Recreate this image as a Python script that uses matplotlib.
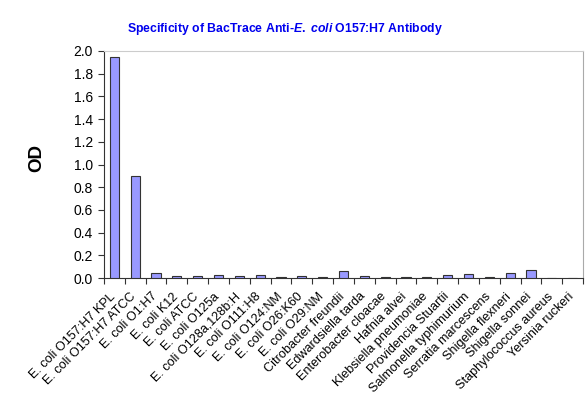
import matplotlib
matplotlib.use("Agg")
import matplotlib.pyplot as plt
import matplotlib.transforms as mtransforms
import numpy as np

plt.rcParams['font.family'] = ['Liberation Sans', 'DejaVu Sans']
plt.rcParams['mathtext.fontset'] = 'custom'
plt.rcParams['mathtext.it'] = 'Liberation Sans:bold:italic'
plt.rcParams['mathtext.rm'] = 'Liberation Sans:bold'

categories = [
    "E. coli O157:H7 KPL", "E. coli O157:H7 ATCC", "E. coli O1:H7", "E. coli K12",
    "E. coli ATCC", "E. coli O125a", "E. coli O128a,128b:H", "E. coli O111:H8",
    "E. coli O124:NM", "E. coli O26:K60", "E. coli O29:NM", "Citrobacter freundii",
    "Edwardsiella tarda", "Enterobacter cloacae", "Hafnia alvei", "Klebsiella pneumoniae",
    "Providencia Stuartii", "Salmonella typhimurium", "Serratia marcescens",
    "Shigella flexneri", "Shigella sonnei", "Staphylococcus aureus", "Yersinia ruckeri",
]
od_values = [1.95, 0.90, 0.045, 0.02, 0.02, 0.03, 0.02, 0.025, 0.01, 0.015, 0.01, 0.06,
             0.02, 0.005, 0.01, 0.01, 0.025, 0.035, 0.01, 0.045, 0.07, 0.003, 0.0]
y_ticks = [0.0, 0.2, 0.4, 0.6, 0.8, 1.0, 1.2, 1.4, 1.6, 1.8, 2.0]

fig = plt.figure(figsize=(5.87, 3.97), dpi=100)
ax = fig.add_axes([104/587, 1-278/397, (583-104)/587, (278-51)/397])

x = np.arange(len(categories))
ax.bar(x, od_values, width=0.44, color='#9999FF', edgecolor='#333333', linewidth=0.8, zorder=3)

ax.set_xlim(-0.5, len(categories)-0.5)
ax.set_ylim(0, 2.0)
ax.set_yticks(y_ticks)
ax.set_yticklabels([f"{v:.1f}" for v in y_ticks], fontsize=10)
ax.set_xticks(x)
ax.set_xticklabels(categories, rotation=45, ha='right', rotation_mode='anchor', fontsize=9.1)
ax.tick_params(axis='x', which='major', length=0, pad=9)
offset = mtransforms.ScaledTranslation(-5/100, 0, fig.dpi_scale_trans)
for lbl in ax.get_xticklabels():
    lbl.set_transform(lbl.get_transform() + offset)
ax.set_xticks(np.arange(-0.5, len(categories), 1.0), minor=True)
ax.tick_params(axis='x', which='minor', length=4, width=0.8, color='#333333', direction='out')
ax.tick_params(axis='y', length=4, width=0.8, color='#333333', direction='out', pad=4)

for s in ['left', 'bottom']:
    ax.spines[s].set_color('#333333')
    ax.spines[s].set_linewidth(0.8)
ax.spines['top'].set_color('#cccccc')
ax.spines['right'].set_color('#aaaaaa')

fig.text(36.5/587, 1-158/397, "OD", rotation=90, ha='center', va='center',
         fontsize=13.5, fontweight='bold')

fig.text(285/587, 1-29/397, r"Specificity of BacTrace Anti-$\it{E.\ coli}$ O157:H7 Antibody",
         ha='center', va='center', fontsize=8.8, fontweight='bold', color='#0000EE')

fig.savefig("out.png", dpi=100)
